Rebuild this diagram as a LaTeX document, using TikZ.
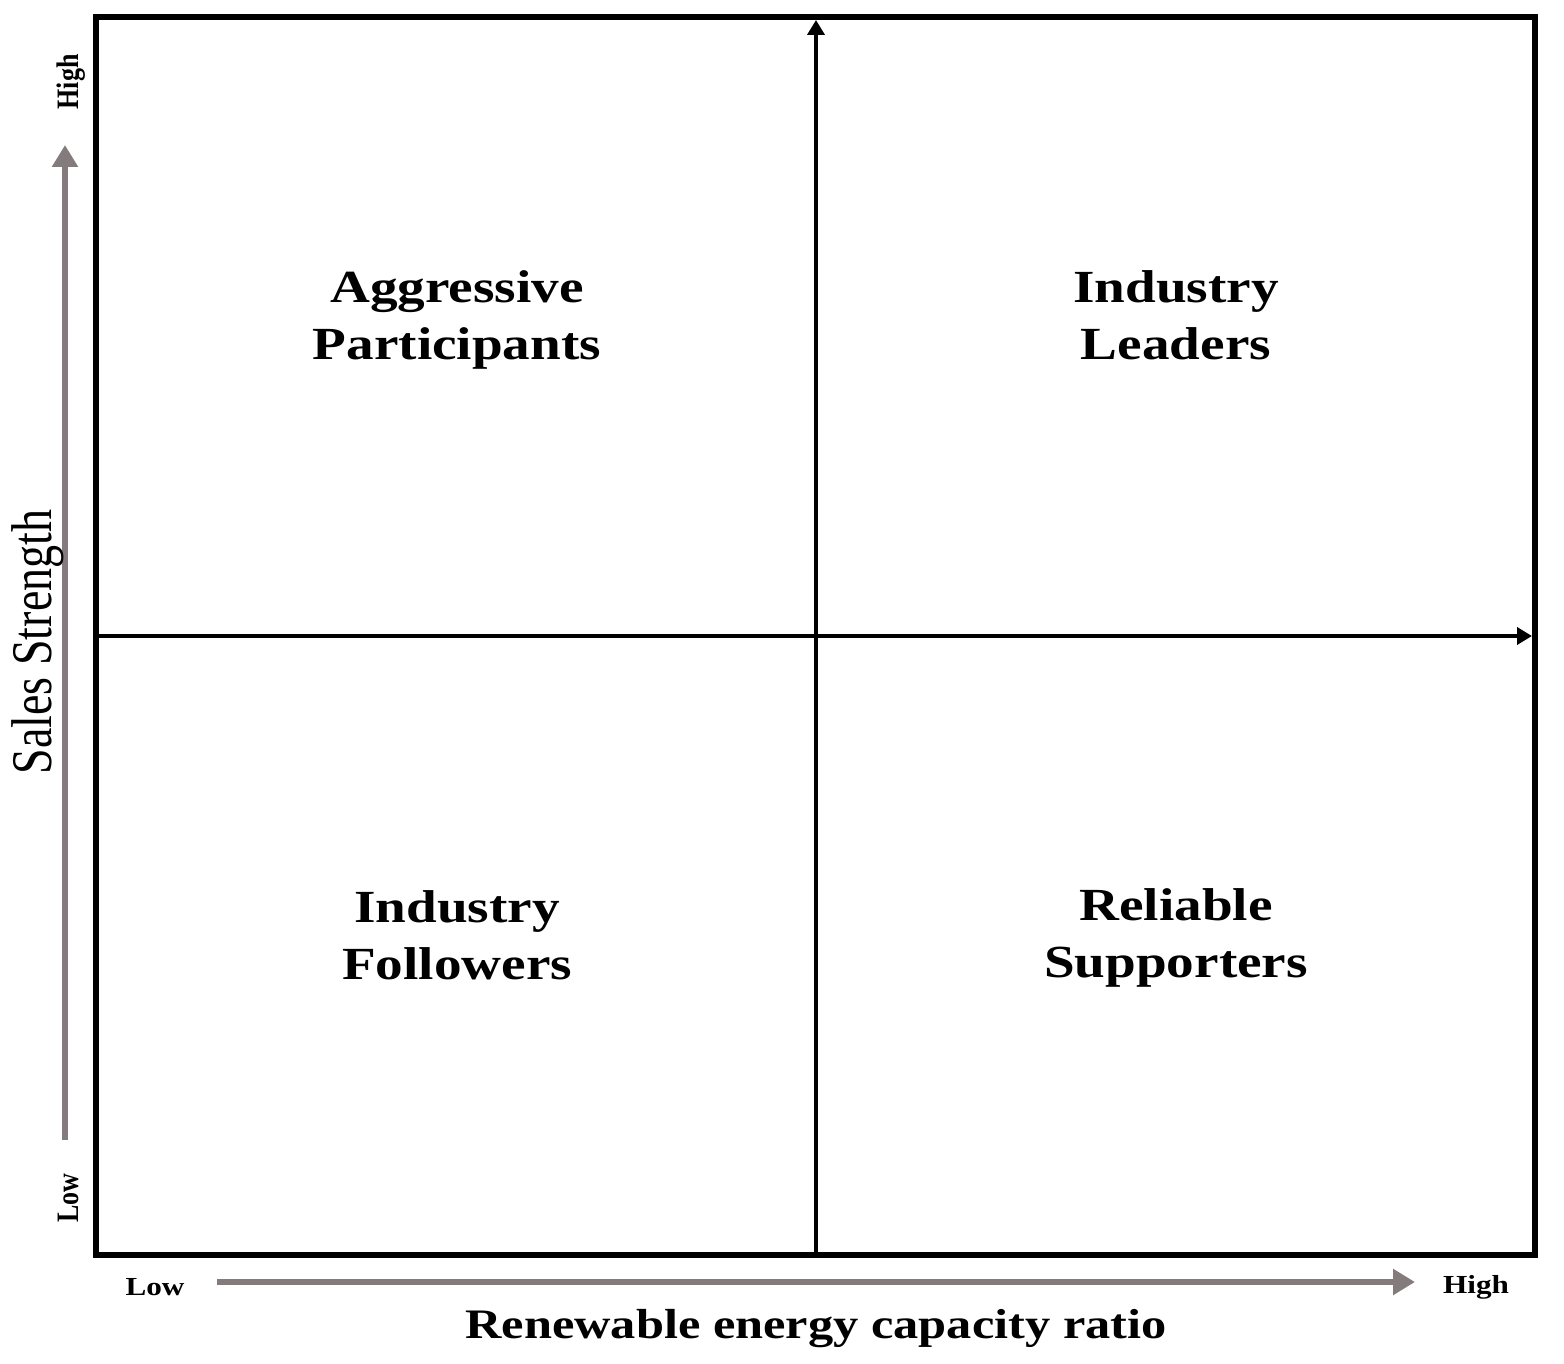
\documentclass[tikz,border=0pt]{standalone}
\usepackage{fontspec}
\setmainfont{Liberation Serif}
\newfontfamily\widefont[FakeStretch=1.2]{Liberation Serif}
\usetikzlibrary{arrows.meta}
\definecolor{axisgray}{RGB}{132,124,124}
\tikzset{
  quad/.style={align=center, font=\widefont\bfseries\fontsize{46}{57}\selectfont},
  small/.style={font=\widefont\bfseries\fontsize{26}{30}\selectfont},
  vsmall/.style={rotate=90, anchor=base, font=\bfseries\fontsize{26}{30}\selectfont},
  grayarrow/.style={draw=axisgray, line width=6pt, -{Triangle[length=22pt,width=25pt]}},
  blackarrow/.style={draw=black, line width=4pt, -{Triangle[length=15pt,width=17pt]}},
}
\begin{document}
\begin{tikzpicture}[x=1pt,y=-1pt]
\useasboundingbox (0,0) rectangle (1564,1364);
% frame
\coordinate (tl) at (96,17);
\coordinate (br) at (1535,1255);
\draw[line width=6pt] (tl) rectangle (br);
% quadrant axes
\coordinate (vb) at (816,1255);
\coordinate (vt) at (816,20);
\coordinate (hl) at (96,636);
\coordinate (hr) at (1532,636);
\draw[blackarrow] (vb) -- (vt);
\draw[blackarrow] (hl) -- (hr);
% quadrant labels
\node[quad] (ap) at (457,320) {Aggressive\\Participants};
\node[quad] (il) at (1176,315) {Industry\\Leaders};
\node[quad] (if) at (457,935) {Industry\\Followers};
\node[quad] (rs) at (1176,938) {Reliable\\Supporters};
% gray axis arrows
\coordinate (ys) at (65,1140);
\coordinate (ye) at (65,145);
\draw[grayarrow] (ys) -- (ye);
\coordinate (xs) at (217,1282);
\coordinate (xe) at (1415,1282);
\draw[grayarrow] (xs) -- (xe);
% axis labels
\node[vsmall] (yhigh) at (78,82) {\scalebox{1}[1.2]{High}};
\node[vsmall] (ylow) at (78,1198) {\scalebox{1}[1.2]{Low}};
\node[small, anchor=base] (xlow) at (155,1295) {Low};
\node[small, anchor=base] (xhigh) at (1476,1293) {High};
\node[rotate=90, anchor=base, font=\fontsize{46}{50}\selectfont] (ytitle) at (51,642) {\scalebox{1}[1.25]{Sales Strength}};
\node[anchor=base, font=\widefont\bfseries\fontsize{42}{48}\selectfont] (xtitle) at (816,1338) {Renewable energy capacity ratio};
\end{tikzpicture}
\end{document}
